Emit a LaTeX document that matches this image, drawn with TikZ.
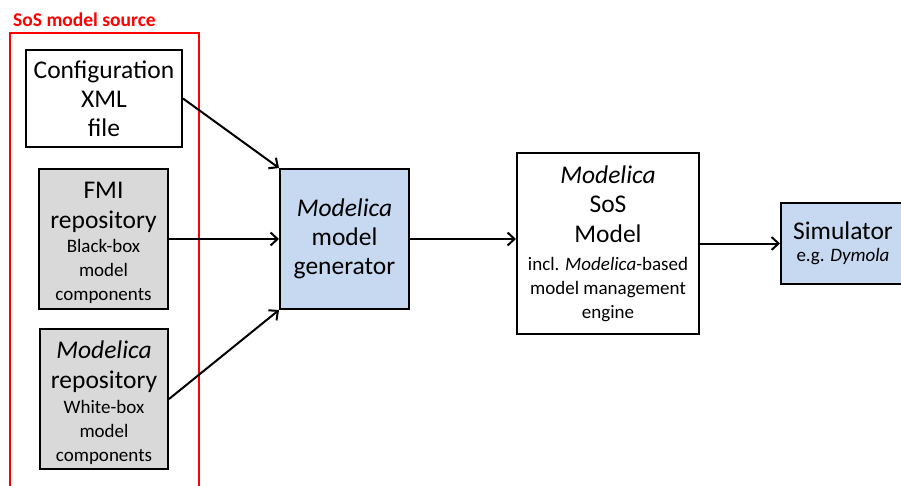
\documentclass[tikz,border=0pt]{standalone}
\usepackage{fontspec}
\setmainfont{Carlito}
\usetikzlibrary{arrows.meta}
\definecolor{boxblue}{HTML}{C6D9F1}
\definecolor{boxgray}{HTML}{D9D9D9}
\definecolor{framered}{HTML}{FF0000}
\newcommand{\bigtxt}{\fontsize{25.5}{30}\selectfont}
\newcommand{\smalltxt}{\fontsize{19}{24}\selectfont}
\tikzset{
  blockbox/.style={draw=black, line width=2pt, inner sep=0pt, align=center, font=\smalltxt},
  boxtext/.style={inner sep=0pt, align=center, font=\smalltxt},
  flow/.style={line width=2pt, -{Straight Barb[length=7pt,width=13pt,line width=2pt]}}
}
\begin{document}
\begin{tikzpicture}[x=1pt,y=-1pt]
\useasboundingbox (0,0) rectangle (901,486);
\clip (0,0) rectangle (901,486);

% source group frame and its title
\node[draw=framered, line width=2pt, minimum width=189pt, minimum height=470pt, inner sep=0pt] (srcframe) at (104.5,268) {};
\node[anchor=base west, inner sep=0pt, text=framered, font=\fontsize{19.5}{22}\selectfont\bfseries] (srctitle) at (13,27) {SoS model source};

% model sources
\node[blockbox, fill=white, minimum width=156pt, minimum height=97pt] (cfg) at (104,98.5)
  {\bigtxt Configuration\\[5pt]\bigtxt XML\\[5pt]\bigtxt file};
\node[blockbox, fill=boxgray, minimum width=129pt, minimum height=140pt] (fmi) at (103.5,239) {};
\node[boxtext] (fmitxt) at ([yshift=-4pt]fmi.center)
  {\bigtxt FMI\\[6pt]\bigtxt repository\\[0pt]\smalltxt Black-box\\\smalltxt model\\\smalltxt components};
\node[blockbox, fill=boxgray, minimum width=128pt, minimum height=140pt] (repo) at (104,399) {};
\node[boxtext] (repotxt) at ([yshift=-4pt]repo.center)
  {\bigtxt\itshape Modelica\\[6pt]\bigtxt repository\\[1pt]\smalltxt White-box\\\smalltxt model\\\smalltxt components};

% generator, generated model and simulator
\node[blockbox, fill=boxblue, minimum width=129pt, minimum height=140pt] (gen) at (344.5,239)
  {\bigtxt\itshape Modelica\\[5pt]\bigtxt model\\[5pt]\bigtxt generator};
\node[blockbox, fill=white, minimum width=182pt, minimum height=181pt] (sos) at (608,243.5)
  {\bigtxt\itshape Modelica\\[5pt]\bigtxt SoS\\[6pt]\bigtxt Model\\[4pt]\smalltxt incl. \textit{Modelica}-based\\\smalltxt model management\\\smalltxt engine};
\node[blockbox, fill=boxblue, minimum width=124pt, minimum height=81pt] (sim) at (843,243.5)
  {\bigtxt Simulator\\[-2pt]\smalltxt e.g. \textit{Dymola}};

% data flow
\draw[flow] (cfg.east) -- (gen.north west);
\draw[flow] (fmi.east) -- (gen.west);
\draw[flow] (repo.east) -- (gen.south west);
\draw[flow] (gen.east) -- (gen.east -| sos.west);
\draw[flow] (sos.east |- sim.west) -- (sim.west);
\end{tikzpicture}
\end{document}
